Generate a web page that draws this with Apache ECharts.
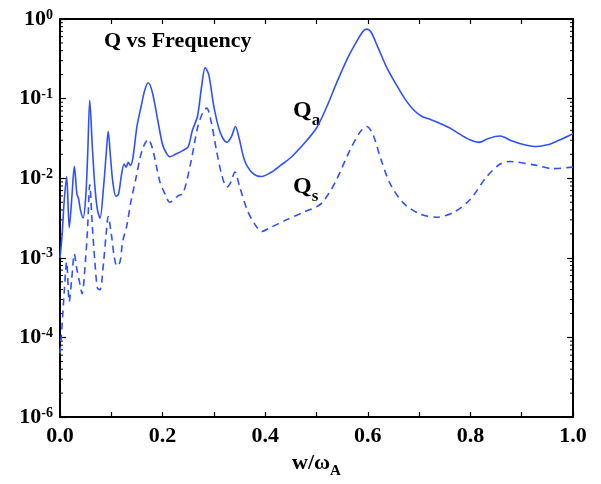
<!DOCTYPE html>
<html><head><meta charset="utf-8">
<script src="https://cdn.jsdelivr.net/npm/echarts@6/dist/echarts.min.js"></script>
<style>html,body{margin:0;padding:0;background:#fff}#c{width:601px;height:484px}</style>
</head><body><div id="c"></div>
<script>
// Q_a (solid) : frequency w/omega_A and Q values
const wA = [0.000,0.004,0.008,0.013,0.018,0.023,0.028,0.033,0.036,0.040,0.045,0.050,0.054,0.058,0.063,0.068,0.073,0.078,0.085,0.090,0.094,0.098,0.103,0.109,0.114,0.120,0.125,0.129,0.133,0.137,0.142,0.150,0.158,0.165,0.172,0.180,0.190,0.200,0.207,0.214,0.225,0.240,0.250,0.258,0.268,0.276,0.283,0.290,0.300,0.312,0.325,0.334,0.342,0.350,0.360,0.375,0.393,0.410,0.430,0.450,0.475,0.500,0.520,0.540,0.560,0.575,0.590,0.598,0.606,0.620,0.637,0.656,0.672,0.689,0.705,0.721,0.740,0.760,0.780,0.800,0.817,0.835,0.858,0.880,0.905,0.929,0.950,0.970,0.994,1.000];
const qA = [1.0e-3,1.9e-3,5.0e-3,1.05e-2,2.4e-3,5.6e-3,1.41e-2,6.3e-3,5.6e-3,3.98e-3,3.16e-3,5.6e-3,2.0e-2,9.55e-2,2.5e-2,7.9e-3,4.0e-3,3.16e-3,7.9e-3,2.0e-2,3.89e-2,2.0e-2,8.9e-3,5.9e-3,6.3e-3,1.12e-2,1.51e-2,1.38e-2,1.58e-2,1.45e-2,1.78e-2,4.47e-2,7.9e-2,0.126,0.158,0.120,5.6e-2,2.63e-2,2.09e-2,1.86e-2,2.0e-2,2.24e-2,2.5e-2,3.98e-2,6.0e-2,0.141,0.245,0.200,7.9e-2,3.8e-2,2.82e-2,3.31e-2,4.47e-2,3.02e-2,1.66e-2,1.17e-2,1.05e-2,1.17e-2,1.45e-2,1.82e-2,2.69e-2,4.27e-2,7.9e-2,0.162,0.316,0.479,0.692,0.746,0.692,0.437,0.245,0.148,0.100,7.24e-2,6.0e-2,5.5e-2,4.9e-2,4.27e-2,3.55e-2,3.02e-2,2.82e-2,3.16e-2,3.39e-2,2.95e-2,2.63e-2,2.5e-2,2.63e-2,2.95e-2,3.47e-2,3.63e-2];
// Q_s (dashed)
const wS = [0.000,0.004,0.008,0.013,0.018,0.023,0.028,0.033,0.038,0.043,0.050,0.054,0.058,0.063,0.068,0.073,0.078,0.085,0.090,0.094,0.100,0.106,0.111,0.117,0.122,0.130,0.138,0.148,0.160,0.172,0.180,0.195,0.205,0.214,0.230,0.240,0.255,0.268,0.278,0.286,0.295,0.305,0.315,0.325,0.333,0.341,0.350,0.365,0.380,0.393,0.410,0.442,0.474,0.507,0.525,0.539,0.565,0.585,0.598,0.610,0.625,0.643,0.669,0.702,0.734,0.767,0.799,0.832,0.858,0.877,0.929,0.960,1.000];
const qS = [6.3e-5,1.41e-4,3.55e-4,8.9e-4,2.82e-4,5.6e-4,1.12e-3,7.1e-4,5.0e-4,3.55e-4,1.0e-3,2.51e-3,8.3e-3,2.51e-3,8.9e-4,4.17e-4,3.98e-4,8.9e-4,2.0e-3,3.31e-3,2.0e-3,1.0e-3,7.9e-4,8.9e-4,1.58e-3,2.51e-3,5.0e-3,1.0e-2,2.24e-2,3.09e-2,2.4e-2,8.9e-3,6.3e-3,5.0e-3,6.0e-3,6.46e-3,1.58e-2,4.27e-2,6.6e-2,7.6e-2,5.0e-2,2.24e-2,1.12e-2,7.76e-3,8.9e-3,1.2e-2,7.9e-3,3.98e-3,2.63e-3,2.14e-3,2.4e-3,3.02e-3,3.72e-3,4.68e-3,6.6e-3,9.55e-3,2.24e-2,3.8e-2,4.47e-2,3.55e-2,1.78e-2,8.7e-3,4.9e-3,3.55e-3,3.24e-3,3.72e-3,5.37e-3,1.05e-2,1.51e-2,1.62e-2,1.45e-2,1.32e-2,1.38e-2];

// axis ticks / labels
const xMin = 0, xMax = 1, xStep = 0.1;
const xLabelTicks = ['0.0','0.2','0.4','0.6','0.8','1.0'];
const yMin = 1e-5, yMax = 1;
const yLabelExp = {'0':'0','-1':'-1','-2':'-2','-3':'-3','-4':'-4','-5':'-6'};
const minorMult = [2,3,4,5,6,7,8,9];
const minorDecades = [1e-5,1e-4,1e-3,1e-2,1e-1];
const minorY = [];
minorDecades.forEach(d => minorMult.forEach(m => minorY.push([m * d])));

const FONT = "'Liberation Serif','DejaVu Serif',serif";
const BLUE = '#2f50ff';

const chart = echarts.init(document.getElementById('c'), null, {renderer: 'canvas'});

const axisCommon = {
  axisLine: {show: true, onZero: false, lineStyle: {color: '#000', width: 2}},
  splitLine: {show: false},
};

const supRich = {
  b: {fontFamily: FONT, fontWeight: 'bold', fontSize: 22, color: '#000', lineHeight: 22},
  sup: {fontFamily: FONT, fontWeight: 'bold', fontSize: 14, color: '#000', lineHeight: 12, verticalAlign: 'top'}
};
const subRich = (size, subSize, drop) => ({
  b: {fontFamily: FONT, fontWeight: 'bold', fontSize: size, color: '#000', fill: '#000', lineHeight: size, verticalAlign: 'top'},
  s: {fontFamily: FONT, fontWeight: 'bold', fontSize: subSize, color: '#000', fill: '#000', lineHeight: 12, verticalAlign: 'top', padding: [drop, 0, 0, 0]}
});

chart.setOption({
  backgroundColor: '#fff',
  animation: false,
  grid: {left: 60, right: 28, top: 19, bottom: 59, containLabel: false},
  xAxis: [
    Object.assign({}, axisCommon, {
      type: 'value', min: xMin, max: xMax, interval: xStep, position: 'bottom',
      axisTick: {inside: true, length: 5, lineStyle: {color: '#000', width: 1.2}},
      axisLabel: {
        margin: 8, color: '#000', fontFamily: FONT, fontWeight: 'bold', fontSize: 22,
        formatter: v => { const s = v.toFixed(1); return xLabelTicks.indexOf(s) >= 0 ? s : ''; }
      },
      name: '{b|w/ω}{s|A}', nameLocation: 'middle', nameGap: 33,
      nameTextStyle: {rich: subRich(22, 15, 12)}
    }),
    Object.assign({}, axisCommon, {
      type: 'value', min: xMin, max: xMax, interval: xStep, position: 'top',
      axisTick: {inside: true, length: 5, lineStyle: {color: '#000', width: 1.2}},
      axisLabel: {show: false}
    })
  ],
  yAxis: [
    Object.assign({}, axisCommon, {
      type: 'log', logBase: 10, min: yMin, max: yMax, position: 'left',
      axisTick: {inside: true, length: 6, lineStyle: {color: '#000', width: 1.2}},
      axisLabel: {
        margin: 7, color: '#000',
        formatter: v => {
          const e = String(Math.round(Math.log10(v)));
          return '{b|10}{sup|' + (yLabelExp[e] !== undefined ? yLabelExp[e] : e) + '}';
        },
        rich: supRich
      }
    }),
    Object.assign({}, axisCommon, {
      type: 'log', logBase: 10, min: yMin, max: yMax, position: 'right',
      axisTick: {inside: true, length: 6, lineStyle: {color: '#000', width: 1.2}},
      axisLabel: {show: false}
    })
  ],
  series: [
    {
      name: 'Qa', type: 'line', xAxisIndex: 0, yAxisIndex: 0,
      data: wA.map((w, i) => [w, qA[i]]),
      showSymbol: false, smooth: 0.3, clip: true,
      lineStyle: {color: BLUE, width: 1.6, type: 'solid'}
    },
    {
      name: 'Qs', type: 'line', xAxisIndex: 0, yAxisIndex: 0,
      data: wS.map((w, i) => [w, qS[i]]),
      showSymbol: false, smooth: 0.3, clip: true,
      lineStyle: {color: BLUE, width: 1.6, type: [7, 5]}
    },
    {
      name: 'minorTicks', type: 'custom', xAxisIndex: 0, yAxisIndex: 0,
      silent: true, clip: false,
      data: minorY,
      renderItem: (params, api) => {
        const pl = api.coord([xMin, api.value(0)]);
        const pr = api.coord([xMax, api.value(0)]);
        const st = {stroke: '#000', lineWidth: 1};
        return {
          type: 'group',
          children: [
            {type: 'line', shape: {x1: pl[0], y1: pl[1], x2: pl[0] + 3, y2: pl[1]}, style: st},
            {type: 'line', shape: {x1: pr[0], y1: pr[1], x2: pr[0] - 3, y2: pr[1]}, style: st}
          ]
        };
      }
    }
  ],
  graphic: [
    {type: 'text', left: 104, top: 30, style: {text: 'Q vs Frequency', fontFamily: FONT, fontWeight: 'bold', fontSize: 22, fill: '#000'}},
    {type: 'text', left: 293, top: 99, style: {text: '{b|Q}{s|a}', rich: subRich(24, 17, 13)}},
    {type: 'text', left: 293, top: 175, style: {text: '{b|Q}{s|s}', rich: subRich(24, 17, 13)}}
  ]
});
</script>
</body></html>
